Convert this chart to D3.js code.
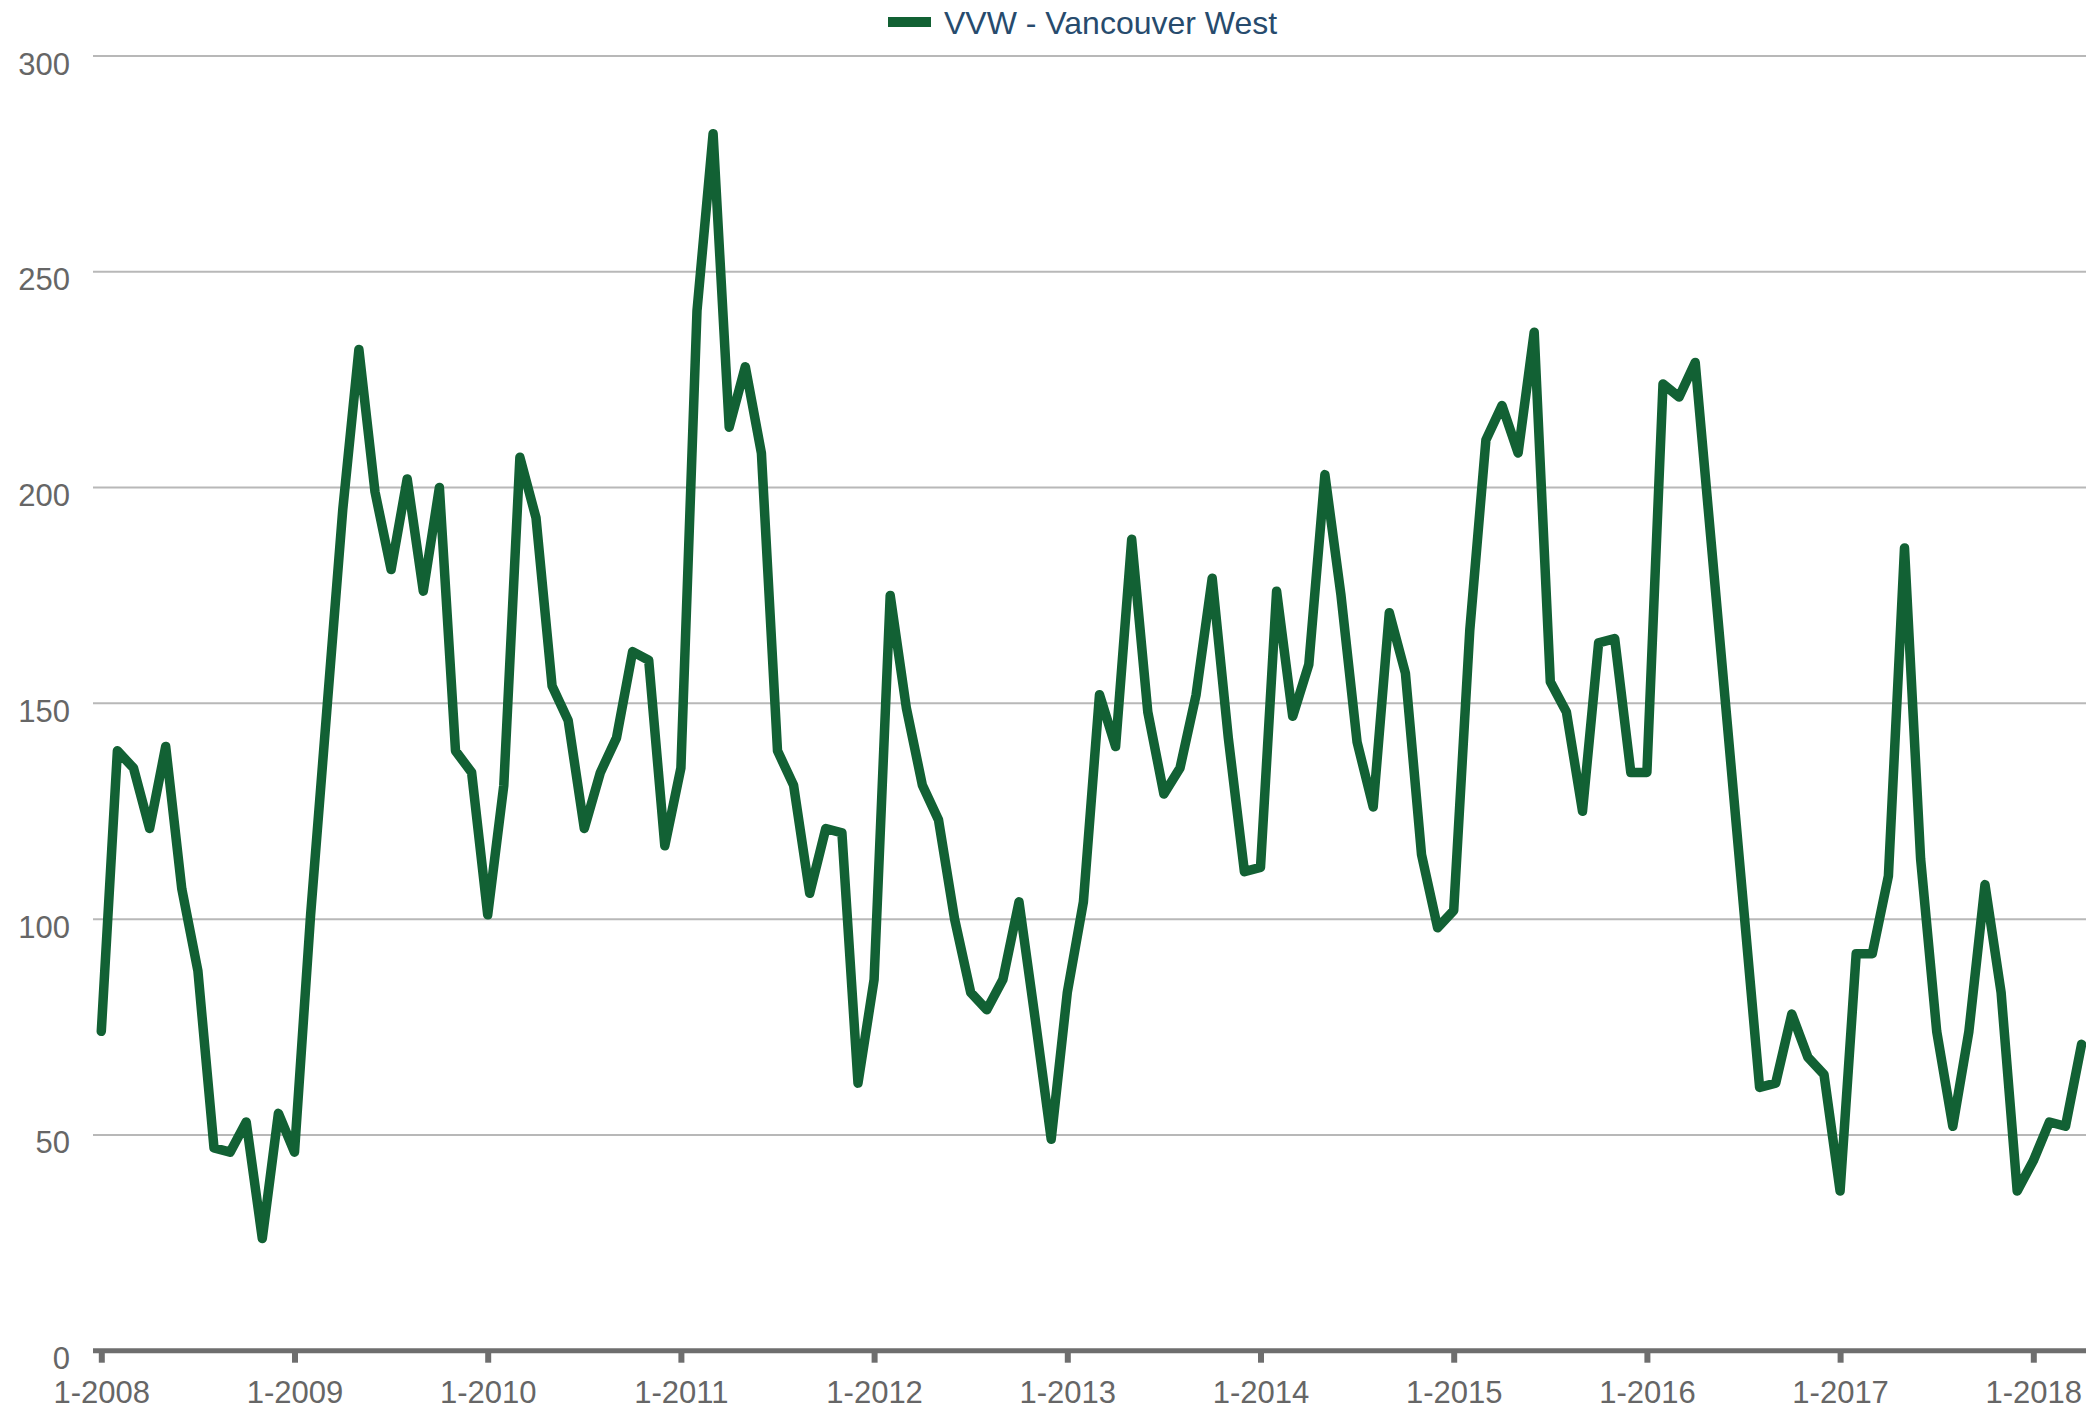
<!DOCTYPE html>
<html>
<head>
<meta charset="utf-8">
<script src="https://cdn.jsdelivr.net/npm/d3@7"></script>
<style>
  body { margin: 0; background: #fff; }
  text { font-family: "Liberation Sans", Arial, Helvetica, sans-serif; }
</style>
</head>
<body>
<svg id="canvas" width="2086" height="1411"></svg>
<script>
let seriesName = "VVW - Vancouver West"

// monthly values, 1-2008 through 4-2018
let sales = [
    74, 139, 135, 121, 140, 107, 88, 47, 46, 53, 26, 55,
    46, 101, 148, 195, 232, 199, 181, 202, 176, 200, 139, 134,
    101, 131, 207, 193, 154, 146, 121, 134, 142, 162, 160, 117,
    135, 241, 282, 214, 228, 208, 139, 131, 106, 121, 120, 62,
    86, 175, 149, 131, 123, 100, 83, 79, 86, 104, 77, 49,
    83, 104, 152, 140, 188, 148, 129, 135, 152, 179, 142, 111,
    112, 176, 147, 159, 203, 175, 141, 126, 171, 157, 115, 98,
    102, 167, 211, 219, 208, 236, 155, 148, 125, 164, 165, 134,
    134, 224, 221, 229, 187, 145, 103, 61, 62, 78, 68, 64,
    37, 92, 92, 110, 186, 114, 74, 52, 74, 108, 83, 37,
    44, 53, 52, 71
]

let tickLabels = ["1-2008", "1-2009", "1-2010", "1-2011", "1-2012", "1-2013",
    "1-2014", "1-2015", "1-2016", "1-2017", "1-2018"]

let yTicks = [0, 50, 100, 150, 200, 250, 300]

// month categories like "1-2008", "2-2008", ...
let months = d3.timeMonth.range(new Date(2008, 0, 1), new Date(2018, 4, 1))
    .map(d3.timeFormat("%-m-%Y"))

let canvas = d3.select("#canvas")
let plotLeft = 93
let plotRight = 2086

let x = d3.scalePoint()
    .domain(months)
    .range([101.3, 101.3 + 16.1 * (months.length - 1)])

let y = d3.scaleLinear()
    .domain([0, 300])
    .range([1350.7, 56])

// gridlines
canvas.append("g")
    .selectAll("line")
    .data(yTicks.filter(d => d > 0))
    .enter()
    .append("line")
    .attr("x1", plotLeft)
    .attr("x2", plotRight)
    .attr("y1", d => y(d))
    .attr("y2", d => y(d))
    .attr("stroke", "#b8b8b8")
    .attr("stroke-width", 2)

// y labels
let yAxis = canvas.append("g")
    .attr("transform", `translate(${plotLeft},0)`)
    .call(d3.axisLeft(y).tickValues(yTicks).tickSize(0).tickPadding(23))
yAxis.select(".domain").remove()
yAxis.selectAll("text")
    .attr("dy", 18)
    .attr("fill", "#666")
    .style("font-size", "31px")

// x axis
canvas.append("line")
    .attr("x1", plotLeft)
    .attr("x2", plotRight)
    .attr("y1", y(0))
    .attr("y2", y(0))
    .attr("stroke", "#6e6e6e")
    .attr("stroke-width", 5)

let xAxis = canvas.append("g")
    .attr("transform", `translate(0,${y(0)})`)
    .call(d3.axisBottom(x).tickValues(tickLabels).tickSize(12).tickSizeOuter(0).tickPadding(18))
xAxis.select(".domain").remove()
xAxis.selectAll(".tick line")
    .attr("stroke", "#6e6e6e")
    .attr("stroke-width", 6)
xAxis.selectAll("text")
    .attr("fill", "#666")
    .style("font-size", "31px")

// the series
let line = d3.line()
    .x((d, i) => x(months[i]))
    .y(d => y(d))

canvas.append("path")
    .datum(sales)
    .attr("d", line)
    .attr("fill", "none")
    .attr("stroke", "#126134")
    .attr("stroke-width", 9.5)
    .attr("stroke-linejoin", "round")
    .attr("stroke-linecap", "round")

// legend
let legend = canvas.append("g")
legend.append("rect")
    .attr("x", 888)
    .attr("y", 17)
    .attr("width", 43)
    .attr("height", 10)
    .attr("fill", "#126134")
legend.append("text")
    .attr("x", 944)
    .attr("y", 34)
    .attr("fill", "#274b6d")
    .style("font-size", "32px")
    .text(seriesName)
</script>
</body>
</html>
